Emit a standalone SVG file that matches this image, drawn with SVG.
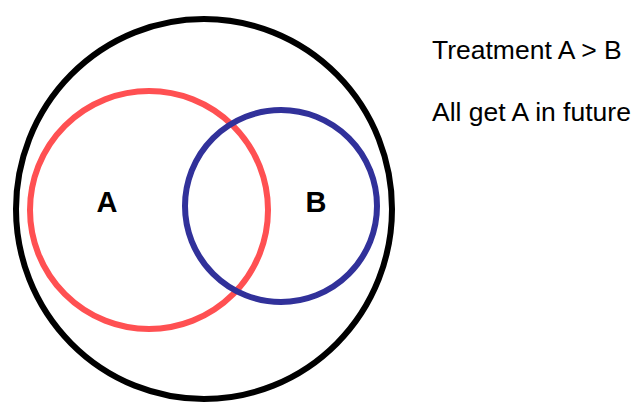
<svg xmlns="http://www.w3.org/2000/svg" width="639" height="402" viewBox="0 0 639 402">
<style>
.ring{fill:none;stroke-width:6}
.lbl{font-family:"Liberation Sans",Arial,sans-serif;font-weight:bold;font-size:29px;fill:#000;text-anchor:middle}
.note{font-family:"Liberation Sans",Arial,sans-serif;font-size:26.5px;fill:#000}
</style>
<rect width="639" height="402" fill="#fff"/>
<g id="population">
<ellipse class="ring" cx="204" cy="209" rx="188" ry="190" stroke="#000"/>
</g>
<g id="setA">
<circle class="ring" cx="149" cy="210" r="119" stroke="#FF5052"/>
<text class="lbl" x="107" y="212">A</text>
</g>
<g id="setB">
<circle class="ring" cx="281" cy="206" r="96" stroke="#31319A"/>
<text class="lbl" x="316" y="212">B</text>
</g>
<g id="notes">
<text class="note" x="432" y="59">Treatment A &gt; B</text>
<text class="note" x="432" y="121">All get A in future</text>
</g>
<g id="connectors"/>
</svg>
